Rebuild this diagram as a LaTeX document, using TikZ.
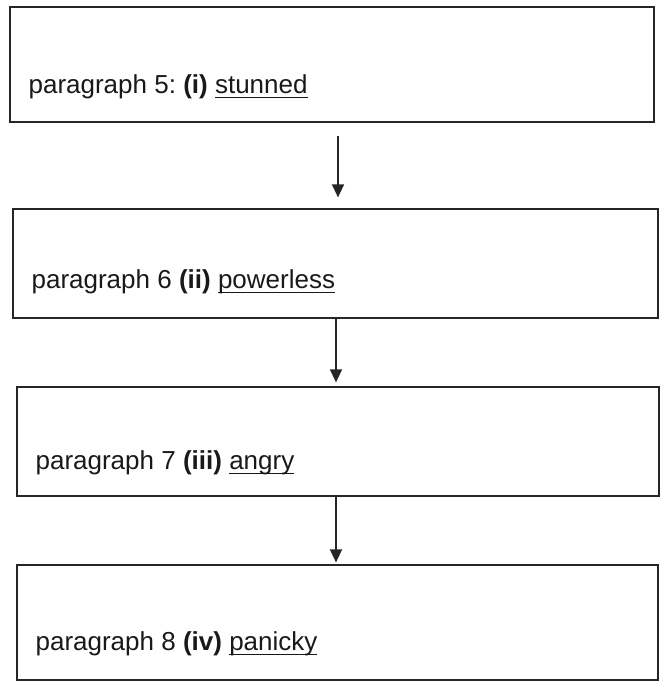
\documentclass[tikz,border=0pt]{standalone}
\usepackage{fontspec}
\setmainfont{Liberation Sans}
\usepackage{tikz}
\usetikzlibrary{arrows.meta}

\newcommand{\uword}[1]{\setbox0\hbox{#1}\rlap{\rule[-4.6pt]{\wd0}{1.3pt}}\box0}
\frenchspacing

\tikzset{
  parabox/.style={draw=black!85, line width=1.2pt, minimum width=#1, inner sep=0pt},
  paratext/.style={anchor=base west, inner sep=0pt, text=black!90,
                   font=\fontsize{26}{31}\selectfont},
  flow/.style={->, line width=1.4pt, draw=black!85},
}

\begin{document}
\begin{tikzpicture}[x=1pt, y=1pt, >={Triangle[length=13pt, width=12pt]}]
  \useasboundingbox (0,0) rectangle (660,683);

  % boxes
  \node[parabox=644pt, minimum height=115pt] (b1) at (332,618.5) {};
  \node[parabox=645pt, minimum height=109pt] (b2) at (335.5,419.5) {};
  \node[parabox=642pt, minimum height=109pt] (b3) at (338,241.5) {};
  \node[parabox=641pt, minimum height=115pt] (b4) at (337.5,60.5) {};

  % texts
  \node[paratext] (t1) at ([xshift=19pt, yshift=29pt]b1.south west)
        {paragraph 5: \textbf{(i)} \uword{stunned}};
  \node[paratext] (t2) at ([xshift=19pt, yshift=30pt]b2.south west)
        {paragraph 6 \textbf{(ii)} \uword{powerless}};
  \node[paratext] (t3) at ([xshift=19pt, yshift=27pt]b3.south west)
        {paragraph 7 \textbf{(iii)} \uword{angry}};
  \node[paratext] (t4) at ([xshift=19pt, yshift=30pt]b4.south west)
        {paragraph 8 \textbf{(iv)} \uword{panicky}};

  % arrows
  \draw[flow, shorten <=13pt, shorten >=11pt]
        ([xshift=6pt]b1.south) -- ([xshift=6pt]b1.south |- b2.north);
  \draw[flow, shorten >=4pt]
        ([xshift=0.5pt]b2.south) -- ([xshift=0.5pt]b2.south |- b3.north);
  \draw[flow, shorten >=2pt]
        ([xshift=-2pt]b3.south) -- ([xshift=-2pt]b3.south |- b4.north);
\end{tikzpicture}
\end{document}
